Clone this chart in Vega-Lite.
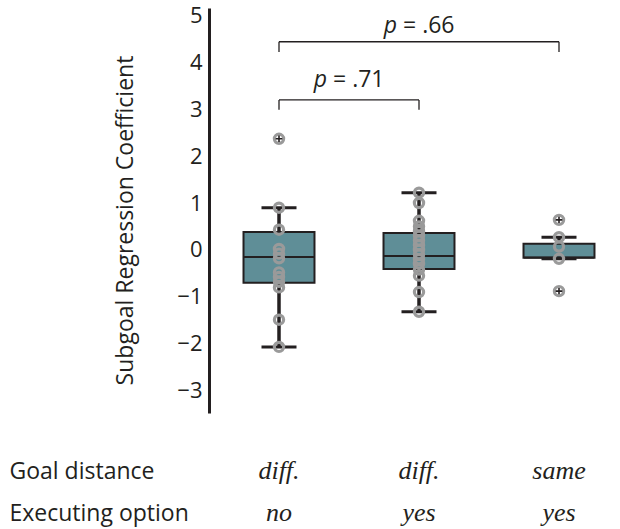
{
  "$schema": "https://vega.github.io/schema/vega-lite/v6.json",
  "autosize": {"type": "none"},
  "padding": {"left": 209, "top": 8, "right": 0, "bottom": 116},
  "width": 411,
  "height": 405,
  "background": "white",
  "config": {
    "view": {"stroke": null},
    "font": "Open Sans",
    "text": {"color": "#231f20"}
  },
  "datasets": {
    "summary": [
      {"condition": "diff.|no", "lower": -2.07, "q1": -0.70, "median": -0.15, "q3": 0.38, "upper": 0.90},
      {"condition": "diff.|yes", "lower": -1.32, "q1": -0.41, "median": -0.13, "q3": 0.36, "upper": 1.22},
      {"condition": "same|yes", "lower": -0.19, "q1": -0.17, "median": -0.16, "q3": 0.13, "upper": 0.27}
    ],
    "subjects": [
      {"condition": "diff.|no", "coef": 2.37, "outlier": true},
      {"condition": "diff.|no", "coef": 0.90, "outlier": false},
      {"condition": "diff.|no", "coef": 0.43, "outlier": false},
      {"condition": "diff.|no", "coef": 0.02, "outlier": false},
      {"condition": "diff.|no", "coef": -0.08, "outlier": false},
      {"condition": "diff.|no", "coef": -0.18, "outlier": false},
      {"condition": "diff.|no", "coef": -0.48, "outlier": false},
      {"condition": "diff.|no", "coef": -0.58, "outlier": false},
      {"condition": "diff.|no", "coef": -0.68, "outlier": false},
      {"condition": "diff.|no", "coef": -0.80, "outlier": false},
      {"condition": "diff.|no", "coef": -1.49, "outlier": false},
      {"condition": "diff.|no", "coef": -2.07, "outlier": false},
      {"condition": "diff.|yes", "coef": 1.22, "outlier": false},
      {"condition": "diff.|yes", "coef": 1.00, "outlier": false},
      {"condition": "diff.|yes", "coef": 0.62, "outlier": false},
      {"condition": "diff.|yes", "coef": 0.50, "outlier": false},
      {"condition": "diff.|yes", "coef": 0.40, "outlier": false},
      {"condition": "diff.|yes", "coef": 0.30, "outlier": false},
      {"condition": "diff.|yes", "coef": 0.20, "outlier": false},
      {"condition": "diff.|yes", "coef": 0.10, "outlier": false},
      {"condition": "diff.|yes", "coef": 0.00, "outlier": false},
      {"condition": "diff.|yes", "coef": -0.10, "outlier": false},
      {"condition": "diff.|yes", "coef": -0.20, "outlier": false},
      {"condition": "diff.|yes", "coef": -0.30, "outlier": false},
      {"condition": "diff.|yes", "coef": -0.42, "outlier": false},
      {"condition": "diff.|yes", "coef": -0.55, "outlier": false},
      {"condition": "diff.|yes", "coef": -0.90, "outlier": false},
      {"condition": "diff.|yes", "coef": -1.32, "outlier": false},
      {"condition": "same|yes", "coef": 0.64, "outlier": true},
      {"condition": "same|yes", "coef": 0.27, "outlier": false},
      {"condition": "same|yes", "coef": 0.07, "outlier": false},
      {"condition": "same|yes", "coef": -0.19, "outlier": false},
      {"condition": "same|yes", "coef": -0.88, "outlier": true}
    ],
    "comparisons": [
      {"from": "diff.|no", "to": "diff.|yes", "bar": 3.20, "leg": 2.99, "labelY": 3.48, "p": "= .71"},
      {"from": "diff.|no", "to": "same|yes", "bar": 4.44, "leg": 4.22, "labelY": 4.63, "p": "= .66"}
    ]
  },
  "encoding": {
    "x": {
      "field": "condition",
      "type": "nominal",
      "sort": null,
      "scale": {"domain": ["diff.|no", "diff.|yes", "same|yes"], "range": [0, 420], "paddingInner": 0, "paddingOuter": 0},
      "axis": {
        "orient": "bottom",
        "domain": false,
        "ticks": false,
        "labelAngle": 0,
        "labelExpr": "split(datum.label, '|')",
        "labelFont": "Liberation Serif",
        "labelFontStyle": "italic",
        "labelFontSize": 26,
        "labelLineHeight": 42,
        "labelColor": "#231f20",
        "labelPadding": 44,
        "title": ["Goal distance", "Executing option"],
        "titleFont": "Open Sans",
        "titleFontSize": 23,
        "titleFontWeight": "normal",
        "titleColor": "#231f20",
        "titleLineHeight": 42,
        "titleAlign": "left",
        "titleBaseline": "alphabetic",
        "titleX": -200,
        "titleY": 65
      }
    }
  },
  "layer": [
    {
      "mark": {"type": "rule", "color": "#231f20", "strokeWidth": 3},
      "encoding": {
        "x": null,
        "y": {
          "datum": 0,
          "type": "quantitative",
          "scale": {"domain": [-3.48, 5.16], "nice": false, "zero": false},
          "axis": {
            "values": [-3, -2, -1, 0, 1, 2, 3, 4, 5],
            "ticks": false,
            "grid": false,
            "domainWidth": 3,
            "domainColor": "#231f20",
            "labelFont": "Open Sans",
            "labelFontSize": 22,
            "labelColor": "#231f20",
            "labelPadding": 7,
            "title": "Subgoal Regression Coefficient",
            "titleFont": "Open Sans",
            "titleFontSize": 23,
            "titleFontWeight": "normal",
            "titleColor": "#231f20",
            "titleAngle": -90,
            "titleAlign": "center",
            "titleBaseline": "middle",
            "titleX": -84,
            "titleY": 212
          }
        }
      }
    },
    {
      "data": {"name": "summary"},
      "mark": {"type": "rule", "color": "#231f20", "strokeWidth": 3.5},
      "encoding": {
        "y": {"field": "lower", "type": "quantitative"},
        "y2": {"field": "upper"}
      }
    },
    {
      "data": {"name": "summary"},
      "mark": {"type": "tick", "color": "#231f20", "size": 35, "thickness": 3, "opacity": 1},
      "encoding": {"y": {"field": "lower", "type": "quantitative"}}
    },
    {
      "data": {"name": "summary"},
      "mark": {"type": "tick", "color": "#231f20", "size": 35, "thickness": 3, "opacity": 1},
      "encoding": {"y": {"field": "upper", "type": "quantitative"}}
    },
    {
      "data": {"name": "summary"},
      "mark": {"type": "bar", "fill": "#5f8e97", "stroke": "#231f20", "strokeWidth": 2, "width": {"band": 0.507}},
      "encoding": {
        "y": {"field": "q1", "type": "quantitative"},
        "y2": {"field": "q3"}
      }
    },
    {
      "data": {"name": "summary"},
      "mark": {"type": "tick", "color": "#231f20", "size": 70, "thickness": 2, "opacity": 1},
      "encoding": {"y": {"field": "median", "type": "quantitative"}}
    },
    {
      "data": {"name": "subjects"},
      "mark": {"type": "point", "shape": "circle", "filled": false, "size": 85, "stroke": "#9a9a9a", "strokeWidth": 3.2, "opacity": 1},
      "encoding": {"y": {"field": "coef", "type": "quantitative"}}
    },
    {
      "data": {"name": "subjects"},
      "transform": [{"filter": "datum.outlier"}],
      "mark": {"type": "point", "shape": "M-1,0H1M0,-1V1", "filled": false, "size": 42, "stroke": "#231f20", "strokeWidth": 1.6, "opacity": 1},
      "encoding": {"y": {"field": "coef", "type": "quantitative"}}
    },
    {
      "data": {"name": "comparisons"},
      "mark": {"type": "rule", "color": "#231f20", "strokeWidth": 1.3},
      "encoding": {
        "x": {"field": "from", "type": "nominal"},
        "x2": {"field": "to"},
        "y": {"field": "bar", "type": "quantitative"}
      }
    },
    {
      "data": {"name": "comparisons"},
      "mark": {"type": "rule", "color": "#231f20", "strokeWidth": 1.3},
      "encoding": {
        "x": {"field": "from", "type": "nominal"},
        "y": {"field": "bar", "type": "quantitative"},
        "y2": {"field": "leg"}
      }
    },
    {
      "data": {"name": "comparisons"},
      "mark": {"type": "rule", "color": "#231f20", "strokeWidth": 1.3},
      "encoding": {
        "x": {"field": "to", "type": "nominal"},
        "y": {"field": "bar", "type": "quantitative"},
        "y2": {"field": "leg"}
      }
    },
    {
      "data": {"name": "comparisons"},
      "transform": [{"filter": "datum.to == 'diff.|yes'"}],
      "layer": [
        {
          "mark": {"type": "text", "text": "p", "font": "Open Sans", "fontStyle": "italic", "fontSize": 23, "align": "right", "baseline": "alphabetic", "dx": -22},
          "encoding": {"x": {"field": "from", "type": "nominal", "bandPosition": 1}, "y": {"field": "labelY", "type": "quantitative"}}
        },
        {
          "mark": {"type": "text", "font": "Open Sans", "fontSize": 23, "align": "left", "baseline": "alphabetic", "dx": -16},
          "encoding": {"x": {"field": "from", "type": "nominal", "bandPosition": 1}, "y": {"field": "labelY", "type": "quantitative"}, "text": {"field": "p"}}
        }
      ]
    },
    {
      "data": {"name": "comparisons"},
      "transform": [{"filter": "datum.to == 'same|yes'"}],
      "layer": [
        {
          "mark": {"type": "text", "text": "p", "font": "Open Sans", "fontStyle": "italic", "fontSize": 23, "align": "right", "baseline": "alphabetic", "dx": -22},
          "encoding": {"x": {"field": "to", "type": "nominal", "bandPosition": -0.5}, "y": {"field": "labelY", "type": "quantitative"}}
        },
        {
          "mark": {"type": "text", "font": "Open Sans", "fontSize": 23, "align": "left", "baseline": "alphabetic", "dx": -16},
          "encoding": {"x": {"field": "to", "type": "nominal", "bandPosition": -0.5}, "y": {"field": "labelY", "type": "quantitative"}, "text": {"field": "p"}}
        }
      ]
    }
  ]
}
